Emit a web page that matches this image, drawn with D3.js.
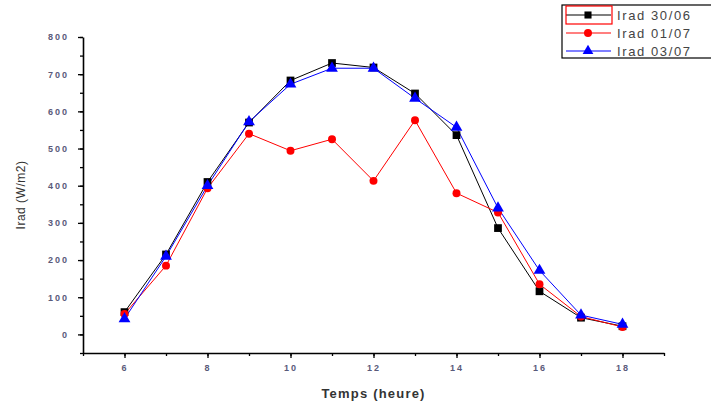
<!DOCTYPE html>
<html>
<head>
<meta charset="utf-8">
<script src="https://cdn.jsdelivr.net/npm/d3@7"></script>
<style>
  body { margin: 0; background: #fff; }
  text { font-family: "Liberation Sans", Arial, sans-serif; }
</style>
</head>
<body>
<div id="chart"></div>
<script>
// hours of the day
const hours = [6, 7, 8, 9, 10, 11, 12, 13, 14, 15, 16, 17, 18];

// irradiance per day (W/m2)
const irad3006 = [60, 215, 410, 570, 683, 730, 718, 648, 536, 286, 116, 45, 22];
const irad0107 = [55, 185, 393, 540, 494, 525, 413, 576, 380, 328, 135, 48, 20];
const irad0307 = [42, 210, 400, 572, 673, 716, 716, 635, 557, 340, 172, 52, 27];

const seriesNames = ["Irad 30/06", "Irad 01/07", "Irad 03/07"];
const seriesColors = ["#000000", "#ff0000", "#0000ff"];
const seriesShapes = [d3.symbolSquare, d3.symbolCircle, d3.symbolTriangle];

const xTicks = [6, 8, 10, 12, 14, 16, 18];
const yTicks = [0, 100, 200, 300, 400, 500, 600, 700, 800];

const W = 711, H = 408;
const margin = {top: 37, right: 47, bottom: 55, left: 83};
const width = W - margin.left - margin.right;
const height = H - margin.top - margin.bottom;

const svg = d3.select("#chart").append("svg")
    .attr("width", W)
    .attr("height", H);

const g = svg.append("g")
    .attr("transform", "translate(" + margin.left + "," + margin.top + ")");

const x = d3.scaleLinear().domain([5, 19]).range([0, width]);
const y = d3.scaleLinear().domain([-50, 800]).range([height, 0]);

// minor ticks
g.append("g")
    .attr("transform", "translate(0," + height + ")")
    .call(d3.axisBottom(x).tickValues(d3.range(5, 20, 1)).tickSize(3).tickFormat(""))
    .call(a => a.select(".domain").remove());
g.append("g")
    .call(d3.axisLeft(y).tickValues(d3.range(-50, 801, 50)).tickSize(3).tickFormat(""))
    .call(a => a.select(".domain").remove());

// major axes
const xAxis = g.append("g")
    .attr("transform", "translate(0," + height + ")")
    .call(d3.axisBottom(x).tickValues(xTicks).tickSize(5).tickSizeOuter(0).tickPadding(7));
const yAxis = g.append("g")
    .call(d3.axisLeft(y).tickValues(yTicks).tickSize(5).tickSizeOuter(0).tickPadding(9));

[xAxis, yAxis].forEach(a => {
    a.select(".domain").attr("stroke", "#000").attr("stroke-width", 1.6);
    a.selectAll("text")
        .attr("fill", "#5a5a7a")
        .style("font-size", "9px")
        .style("font-weight", "bold")
        .style("letter-spacing", "2px");
});
svg.selectAll(".tick line").attr("stroke", "#000").attr("stroke-width", 1.3);

// axis titles
svg.append("text")
    .attr("x", margin.left + x(12))
    .attr("y", 398)
    .attr("text-anchor", "middle")
    .style("font-size", "13px")
    .style("font-weight", "bold")
    .style("letter-spacing", "1.2px")
    .attr("fill", "#333")
    .text("Temps (heure)");

svg.append("text")
    .attr("transform", "translate(25," + (margin.top + y(375)) + ") rotate(-90)")
    .attr("text-anchor", "middle")
    .style("font-size", "12px")
    .style("letter-spacing", "0.5px")
    .attr("fill", "#333")
    .text("Irad (W/m2)");

// series
const allSeries = [irad3006, irad0107, irad0307];
const line = d3.line()
    .x((d, i) => x(hours[i]))
    .y(d => y(d));

allSeries.forEach((vals, s) => {
    g.append("path")
        .datum(vals)
        .attr("fill", "none")
        .attr("stroke", seriesColors[s])
        .attr("stroke-width", 1)
        .attr("d", line);
});

allSeries.forEach((vals, s) => {
    g.selectAll(".m" + s)
        .data(vals)
        .enter().append("path")
        .attr("class", "m" + s)
        .attr("transform", (d, i) => "translate(" + x(hours[i]) + "," + y(d) + ")")
        .attr("d", d3.symbol().type(seriesShapes[s]).size(s === 1 ? 50 : 60))
        .attr("fill", seriesColors[s]);
});

// legend
const leg = svg.append("g").attr("transform", "translate(562,5)");
leg.append("rect")
    .attr("x", 0).attr("y", 0)
    .attr("width", 160).attr("height", 53)
    .attr("fill", "#fff")
    .attr("stroke", "#000")
    .attr("stroke-width", 1.2);

seriesNames.forEach((name, s) => {
    const ly = 10 + s * 18;
    leg.append("line")
        .attr("x1", 4).attr("x2", 49)
        .attr("y1", ly).attr("y2", ly)
        .attr("stroke", seriesColors[s])
        .attr("stroke-width", 1.2);
    leg.append("path")
        .attr("transform", "translate(26," + ly + ")")
        .attr("d", d3.symbol().type(seriesShapes[s]).size(50))
        .attr("fill", seriesColors[s]);
    leg.append("text")
        .attr("x", 55).attr("y", ly + 5)
        .style("font-size", "13px")
        .style("letter-spacing", "1.6px")
        .attr("fill", "#444")
        .text(name);
});
// highlight box around first legend sample
leg.append("rect")
    .attr("x", 4).attr("y", 1)
    .attr("width", 46).attr("height", 18)
    .attr("fill", "none")
    .attr("stroke", "#ff0000")
    .attr("stroke-width", 1.2);
</script>
</body>
</html>
